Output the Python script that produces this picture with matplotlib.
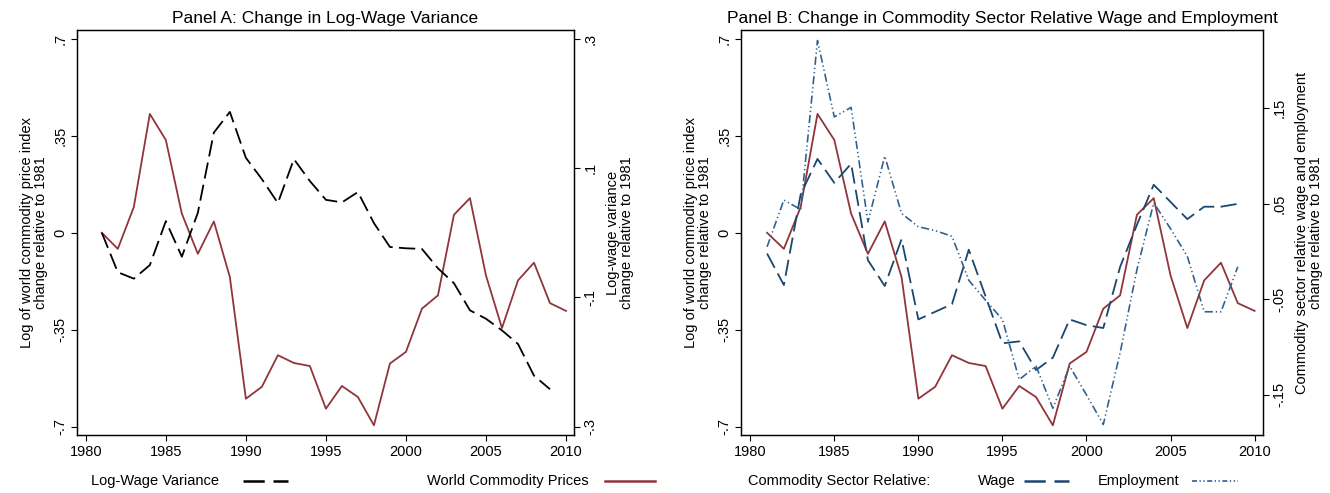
"""
Two panels, Stata look: commodity prices vs log-wage variance (A),
and vs commodity sector relative wage / employment (B).
"""
import matplotlib
matplotlib.use("Agg")
import matplotlib.pyplot as plt
from matplotlib.lines import Line2D

plt.rcParams.update({
    "font.family": ["Liberation Sans", "DejaVu Sans"],
    "font.size": 10.5,
    "axes.linewidth": 0.9,
    "xtick.major.size": 4, "ytick.major.size": 4,
    "xtick.major.width": 0.8, "ytick.major.width": 0.8,
})

MAROON, NAVY, NAVY2 = "#90353b", "#1a476f", "#2d5f8f"

years = list(range(1981, 2011))
commodity = [0.0, -0.058, 0.093, 0.429, 0.335, 0.069, -0.076, 0.041, -0.16, -0.599,
             -0.556, -0.442, -0.47, -0.481, -0.635, -0.553, -0.593, -0.695, -0.472, -0.43,
             -0.274, -0.226, 0.065, 0.125, -0.154, -0.344, -0.172, -0.108, -0.254, -0.282]

years_w = list(range(1981, 2010))
wage_var = [0.0, -0.061, -0.071, -0.05, 0.018, -0.037, 0.031, 0.155, 0.187, 0.116,
            0.083, 0.046, 0.114, 0.08, 0.051, 0.047, 0.063, 0.015, -0.022, -0.024,
            -0.025, -0.055, -0.078, -0.12, -0.133, -0.151, -0.172, -0.221, -0.242]

rel_wage = [-0.002, -0.035, 0.06, 0.097, 0.072, 0.092, -0.009, -0.036, 0.013, -0.071,
            -0.063, -0.055, 0.002, -0.047, -0.096, -0.094, -0.124, -0.111, -0.071, -0.077,
            -0.08, -0.016, 0.028, 0.07, 0.052, 0.034, 0.047, 0.047, 0.05]
rel_emp = [0.005, 0.054, 0.044, 0.221, 0.141, 0.151, 0.031, 0.1, 0.04, 0.026,
           0.022, 0.016, -0.03, -0.051, -0.071, -0.134, -0.12, -0.164, -0.12, -0.15,
           -0.181, -0.106, -0.019, 0.051, 0.024, -0.005, -0.063, -0.063, -0.016]

left_ticks = [0.7, 0.35, 0, -0.35, -0.7]
left_labels = [".7", ".35", "0", "-.35", "-.7"]
rightA_ticks = [0.3, 0.1, -0.1, -0.3]
rightA_labels = [".3", ".1", "-.1", "-.3"]
rightB_ticks = [0.15, 0.05, -0.05, -0.15]
rightB_labels = [".15", ".05", "-.05", "-.15"]
x_ticks = [1980, 1985, 1990, 1995, 2000, 2005, 2010]

W, H = 1330, 493
fig = plt.figure(figsize=(W / 100, H / 100), dpi=100)

def px_axes(l, r, t, b):
    return fig.add_axes([l / W, 1 - b / H, (r - l) / W, (b - t) / H])

axA = px_axes(77, 574, 30, 435)
axB = px_axes(741, 1263, 30, 435)

LW = 1.3
DASH_BLACK = (0, (9, 3.5))
DASH_WAGE = (0, (9, 3.5))
DASH_EMP = (0, (5, 1.8, 0.8, 1.8, 0.8, 1.8))

def style_y(ax):
    ax.tick_params(axis="y", labelrotation=90, pad=3)
    for lab in ax.get_yticklabels():
        lab.set_va("center")

def common(ax, ylab):
    ax.set_xlim(1979.45, 2010.5)
    ax.set_ylim(-0.73, 0.732)
    ax.set_xticks(x_ticks)
    ax.set_xticklabels([str(x) for x in x_ticks])
    ax.set_yticks(left_ticks)
    ax.set_yticklabels(left_labels)
    style_y(ax)
    ax.set_ylabel(ylab, labelpad=4, linespacing=1.0)
    ax.plot(years, commodity, color=MAROON, lw=LW, zorder=3)

# Panel A
common(axA, "Log of world commodity price index\nchange relative to 1981")
axA.set_title("Panel A: Change in Log-Wage Variance", fontsize=12.5, pad=5)
axA2 = axA.twinx()
axA2.set_ylim(-0.73 * 0.3 / 0.7, 0.732 * 0.3 / 0.7)
axA2.set_yticks(rightA_ticks)
axA2.set_yticklabels(rightA_labels)
style_y(axA2)
axA2.set_ylabel("Log-wage variance\nchange relative to 1981", labelpad=6, linespacing=1.0)
axA2.plot(years_w, wage_var, color="black", lw=LW, linestyle=DASH_BLACK)

# Panel B
common(axB, "Log of world commodity price index\nchange relative to 1981")
axB.set_title("Panel B: Change in Commodity Sector Relative Wage and Employment",
              fontsize=12.5, pad=5)
axB2 = axB.twinx()
axB2.set_ylim(-0.192, 0.232)
axB2.set_yticks(rightB_ticks)
axB2.set_yticklabels(rightB_labels)
style_y(axB2)
axB2.set_ylabel("Commodity sector relative wage and employment\nchange relative to 1981",
                labelpad=6, linespacing=1.0)
axB2.plot(years_w, rel_wage, color=NAVY, lw=LW, linestyle=DASH_WAGE)
axB2.plot(years_w, rel_emp, color=NAVY2, lw=LW * 0.9, linestyle=DASH_EMP)

# legends below the panels, text first then key (Stata layout)
LEG_Y = 1 - 481 / H
KEY_DASH = (0, (8.5, 3.5))
KEY_EMP = (0, (3, 1.5, 0.8, 1.5, 0.8, 1.5))

def key(x0, x1, color, ls, lw=1.8):
    fig.add_artist(Line2D([x0 / W, x1 / W], [LEG_Y, LEG_Y], color=color,
                          linestyle=ls, lw=lw, transform=fig.transFigure))

def txt(x, s):
    fig.text(x / W, LEG_Y, s, ha="left", va="center", fontsize=10.5)

txt(91, "Log-Wage Variance")
key(243, 288, "black", KEY_DASH)
txt(427, "World Commodity Prices")
key(605, 655, MAROON, "-")
txt(748, "Commodity Sector Relative:")
txt(978, "Wage")
key(1024, 1069, NAVY, KEY_DASH)
txt(1098, "Employment")
key(1192, 1238, NAVY2, KEY_EMP, 1.2)

fig.savefig("out.png", dpi=100)
